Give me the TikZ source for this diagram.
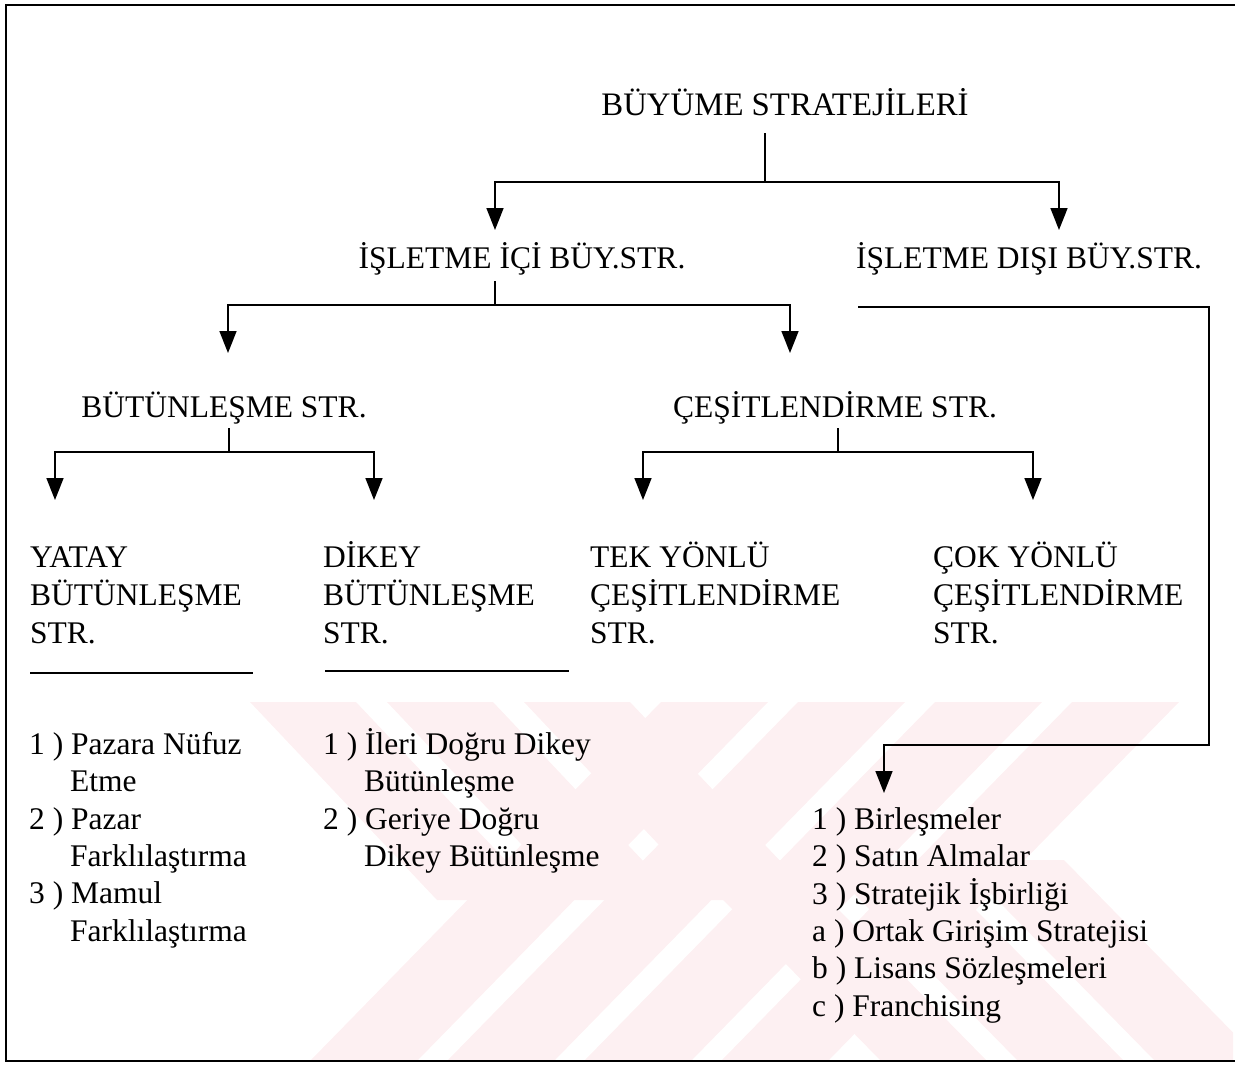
\documentclass[tikz,border=0pt]{standalone}
\usepackage{fontspec}
\setmainfont{Liberation Serif}
\usetikzlibrary{arrows.meta}
\definecolor{wm}{RGB}{253,240,242}
\tikzset{
  lbl/.style={inner sep=0pt, font=\fontsize{31.5}{38}\selectfont},
  blk/.style={lbl, align=left, anchor=north west},
  lst/.style={blk, font=\fontsize{31.5}{37.4}\selectfont},
  conn/.style={line width=1.7pt},
  arr/.style={conn, -{Triangle[width=17pt,length=22pt]}},
  frame/.style={line width=2.4pt},
}
\newcommand\firstln{\rule{0pt}{30pt}}
\begin{document}
\begin{tikzpicture}[x=1pt,y=-1pt]
\useasboundingbox (0,0) rectangle (1235,1065);
% faint watermark
\begin{scope}
  \clip (230,702) rectangle (1233,1060);
  \foreach \k in {0,1,2} {
    \fill[wm] ({250+137*\k},702) -- ({356+137*\k},702) -- ({543+137*\k},900) -- ({437+137*\k},900) -- cycle;
  }
  \foreach \k in {0,...,3} {
    \fill[wm] ({661+137*\k},702) -- ({768+137*\k},702) -- ({418+137*\k},1060) -- ({311+137*\k},1060) -- cycle;
  }
  \foreach \k in {0,1,2} {
    \fill[wm] ({684+137*\k},860) -- ({790+137*\k},860) -- ({986+137*\k},1060) -- ({880+137*\k},1060) -- cycle;
  }
\end{scope}
% frame
\draw[frame] (1235,5) -- (6,5) -- (6,1061) -- (1235,1061);

% labels
\node[lbl, anchor=base, font=\fontsize{32.8}{38}\selectfont] (root) at (785,115) {BÜYÜME STRATEJİLERİ};
\node[lbl, anchor=base] (ici) at (522,268) {İŞLETME İÇİ BÜY.STR.};
\node[lbl, anchor=base] (disi) at (1029,268) {İŞLETME DIŞI BÜY.STR.};
\node[lbl, anchor=base] (but) at (224,417) {BÜTÜNLEŞME STR.};
\node[lbl, anchor=base] (ces) at (835,417) {ÇEŞİTLENDİRME STR.};

\node[blk] (yatay) at (30,537) {\firstln YATAY\\BÜTÜNLEŞME\\STR.};
\node[blk] (dikey) at (323,537) {\firstln DİKEY\\BÜTÜNLEŞME\\STR.};
\node[blk] (tek) at (590,537) {\firstln TEK YÖNLÜ\\ÇEŞİTLENDİRME\\STR.};
\node[blk] (cok) at (933,537) {\firstln ÇOK YÖNLÜ\\ÇEŞİTLENDİRME\\STR.};

\draw[conn] (30,673) -- (253,673);
\draw[conn] (325,671) -- (569,671);

\node[lst] (l1) at (29,724) {\firstln 1 ) Pazara Nüfuz\\\hspace*{41pt}Etme\\2 ) Pazar\\\hspace*{41pt}Farklılaştırma\\3 ) Mamul\\\hspace*{41pt}Farklılaştırma};
\node[lst] (l2) at (323,724) {\firstln 1 ) İleri Doğru Dikey\\\hspace*{41pt}Bütünleşme\\2 ) Geriye Doğru\\\hspace*{41pt}Dikey Bütünleşme};
\node[lst] (l3) at (812,799) {\firstln 1 ) Birleşmeler\\2 ) Satın Almalar\\3 ) Stratejik İşbirliği\\a ) Ortak Girişim Stratejisi\\b ) Lisans Sözleşmeleri\\c ) Franchising};

% connectors
\coordinate (r0) at (765,133);
\coordinate (r1) at (765,182);
\coordinate (a1) at (495,230);
\coordinate (a2) at (1059,230);
\draw[conn] (r0) -- (r1);
\draw[arr] (r1) -| (a1);
\draw[arr] (r1) -| (a2);

\coordinate (i0) at (495,281);
\coordinate (i1) at (495,305);
\coordinate (a3) at (228,353);
\coordinate (a4) at (790,353);
\draw[conn] (i0) -- (i1);
\draw[arr] (i1) -| (a3);
\draw[arr] (i1) -| (a4);

\coordinate (b0) at (229,428);
\coordinate (b1) at (229,452);
\coordinate (a5) at (55,500);
\coordinate (a6) at (374,500);
\draw[conn] (b0) -- (b1);
\draw[arr] (b1) -| (a5);
\draw[arr] (b1) -| (a6);

\coordinate (c0) at (838,428);
\coordinate (c1) at (838,452);
\coordinate (a7) at (643,500);
\coordinate (a8) at (1033,500);
\draw[conn] (c0) -- (c1);
\draw[arr] (c1) -| (a7);
\draw[arr] (c1) -| (a8);

\coordinate (d0) at (858,307);
\coordinate (d1) at (1209,307);
\coordinate (d2) at (1209,745);
\coordinate (a9) at (884,793);
\draw[arr] (d0) -- (d1) -- (d2) -| (a9);
\end{tikzpicture}
\end{document}
